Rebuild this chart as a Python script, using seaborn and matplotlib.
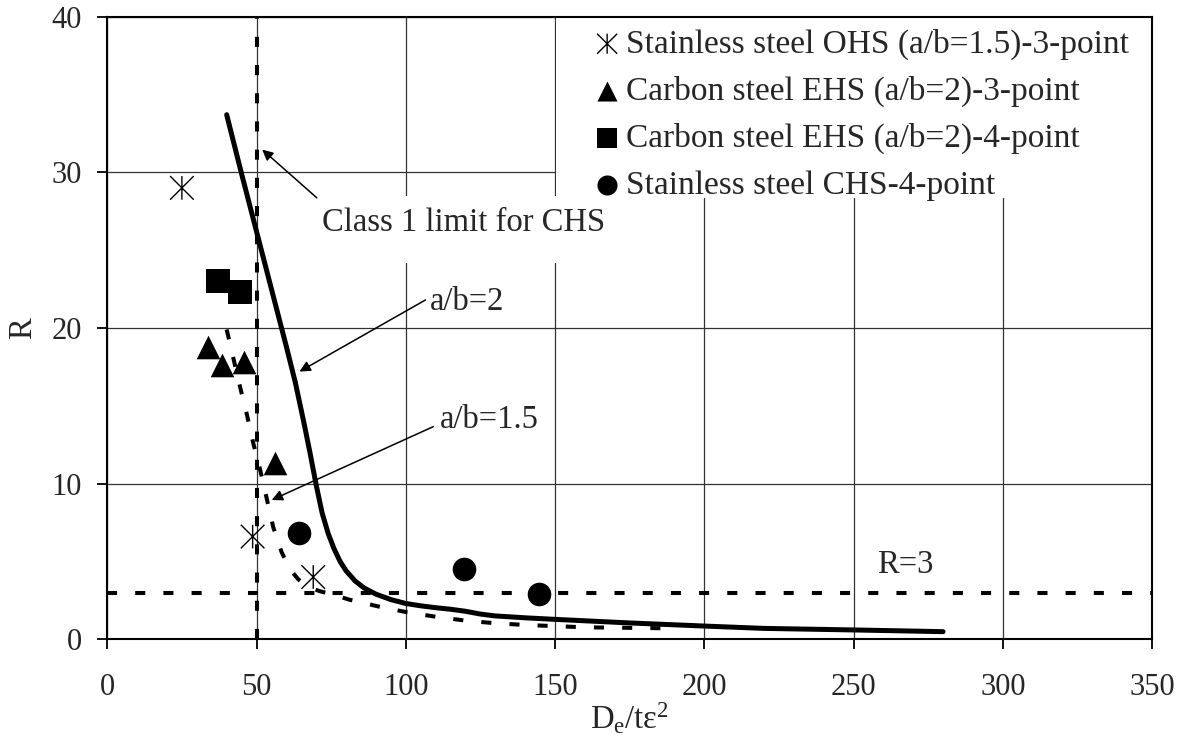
import matplotlib
matplotlib.use("Agg")
import matplotlib.pyplot as plt
from matplotlib.path import Path
from matplotlib.patches import Rectangle
import seaborn as sns

# ---- data -------------------------------------------------------------
# design curve for a/b = 2 (solid)
ab2_x = [40, 45, 50, 55, 60, 63, 66, 68, 70, 72, 74, 76, 78, 80, 83, 86, 90,
         95, 100, 105, 110, 115, 120, 125, 130, 140, 150, 175, 200, 220, 250,
         280]
ab2_y = [33.7, 29.9, 26.2, 22.5, 18.8, 16.5, 13.8, 11.9, 9.9, 8.1, 6.8, 5.8,
         5.0, 4.4, 3.75, 3.3, 2.9, 2.55, 2.3, 2.15, 2.03, 1.93, 1.8, 1.62,
         1.5, 1.38, 1.28, 1.05, 0.85, 0.7, 0.6, 0.49]

# design curve for a/b = 1.5 (dashed)
ab15_x = [40, 44.5, 46.7, 48.9, 51.2, 53.4, 55.6, 58.4, 61.2, 64, 67, 71,
          76, 81, 91, 100, 110, 120, 130, 140, 160, 190]
ab15_y = [19.9, 16.2, 14.5, 12.6, 10.9, 9.06, 7.2, 5.6, 4.5, 3.85, 3.4,
          3.1, 2.85, 2.55, 2.1, 1.75, 1.45, 1.2, 1.03, 0.92, 0.77, 0.7]

# test results
ohs_x = [25, 48.7, 69]
ohs_y = [29.0, 6.6, 4.0]
ehs3_x = [33.8, 38.3, 45.9, 56.2]
ehs3_y = [18.8, 17.6, 17.8, 11.3]
ehs4_x = [37.2, 44.5]
ehs4_y = [23.0, 22.3]
chs_x = [64.3, 119.6, 144.7]
chs_y = [6.85, 4.5, 2.9]

series_labels = ["Stainless steel OHS (a/b=1.5)-3-point",
                 "Carbon steel EHS (a/b=2)-3-point",
                 "Carbon steel EHS (a/b=2)-4-point",
                 "Stainless steel CHS-4-point"]

class1_limit = 50
r_limit = 3
x_ticks = [0, 50, 100, 150, 200, 250, 300, 350]
y_ticks = [0, 10, 20, 30, 40]

# ---- style ------------------------------------------------------------
sns.set_theme(style="white")
plt.rcParams["font.family"] = ["Liberation Serif", "DejaVu Serif"]
plt.rcParams["mathtext.fontset"] = "custom"
plt.rcParams["mathtext.rm"] = "Liberation Serif"
plt.rcParams["mathtext.it"] = "Liberation Serif:italic"

FS = 23.5
dash = (0, (2.5, 4.5))

fig = plt.figure(figsize=(11.88, 7.40), dpi=100)
ax = fig.add_axes([0.0903, 0.1361, 0.8794, 0.8414])

ax.set_xlim(0, 350)
ax.set_ylim(0, 40)
ax.set_xticks(x_ticks)
ax.set_yticks(y_ticks)
ax.set_axisbelow(True)
ax.grid(True, color="#333333", lw=0.9)
for s in ax.spines.values():
    s.set_color("black")
    s.set_linewidth(1.5)
ax.tick_params(axis="both", direction="out", length=7.2, width=1.3,
               color="black", labelsize=22, bottom=True, left=True)
ax.tick_params(axis="x", pad=17)
ax.tick_params(axis="y", pad=11)

# white panels behind the legend and the class-limit label
leg_x0 = 150.3 / 350
leg_y0 = 0.7088
ax.add_patch(Rectangle((leg_x0, leg_y0), 1 - leg_x0, 1 - leg_y0,
                       transform=ax.transAxes, facecolor="white",
                       edgecolor="none", zorder=1))
ax.add_patch(Rectangle((71, 24.2), 80, 4.3, facecolor="white",
                       edgecolor="none", zorder=1))

# reference limits
ax.axhline(r_limit, color="black", lw=2.9, linestyle=dash, zorder=2)
ax.axvline(class1_limit, color="black", lw=2.9, linestyle=dash, zorder=2)

# design curves
sns.lineplot(x=ab2_x, y=ab2_y, ax=ax, color="black", lw=3.6, sort=False,
             estimator=None, solid_capstyle="round",
             solid_joinstyle="round", zorder=3)
sns.lineplot(x=ab15_x, y=ab15_y, ax=ax, color="black", lw=2.9, sort=False,
             estimator=None, linestyle=dash, zorder=3)

# test points
star = Path([(0, -1), (0, 1), (-1, -1), (1, 1), (-1, 1), (1, -1)],
            [Path.MOVETO, Path.LINETO] * 3)
sns.scatterplot(x=ohs_x, y=ohs_y, ax=ax, marker=star, s=17 ** 2,
                facecolor="none", edgecolor="black", linewidth=1.0,
                label=series_labels[0], zorder=4)
sns.scatterplot(x=ehs3_x, y=ehs3_y, ax=ax, marker="^", s=17 ** 2,
                color="black", edgecolor="black", linewidth=0,
                label=series_labels[1], zorder=4)
sns.scatterplot(x=ehs4_x, y=ehs4_y, ax=ax, marker="s", s=17 ** 2,
                color="black", edgecolor="black", linewidth=0,
                label=series_labels[2], zorder=4)
sns.scatterplot(x=chs_x, y=chs_y, ax=ax, marker="o", s=17 ** 2,
                color="black", edgecolor="black", linewidth=0,
                label=series_labels[3], zorder=4)

handles, labels = ax.get_legend_handles_labels()
leg = ax.legend(handles, labels, loc="upper left",
                bbox_to_anchor=(0.4665, 0.981), borderaxespad=0,
                borderpad=0, frameon=False, fontsize=24, handlelength=0.75,
                handletextpad=0.2, labelspacing=0.48, markerscale=0.85)
leg.set_zorder(5)

# annotations
arrow = dict(arrowstyle="-|>", color="black", lw=1.1, mutation_scale=16,
             shrinkA=0, shrinkB=0)
ax.text(119.2, 26.2, "Class 1 limit for CHS", ha="center", va="baseline",
        fontsize=FS, zorder=3)
ax.annotate("", xy=(51.9, 31.46), xytext=(70.2, 28.36), arrowprops=arrow,
            zorder=4)

ax.text(120.5, 21.16, "a/b=2", ha="center", va="baseline", fontsize=FS)
ax.annotate("", xy=(64.4, 17.2), xytext=(106.6, 21.8), arrowprops=arrow,
            zorder=4)

ax.text(128.1, 13.55, "a/b=1.5", ha="center", va="baseline", fontsize=FS)
ax.annotate("", xy=(55.1, 8.95), xytext=(109.2, 13.66), arrowprops=arrow,
            zorder=4)

ax.text(267.2, 4.26, "R=3", ha="center", va="baseline", fontsize=FS)

ax.set_xlabel(r"$\mathrm{D_e/t\varepsilon^2}$", fontsize=FS, labelpad=-1)
ax.set_ylabel("R", fontsize=FS, labelpad=10)

fig.savefig("out.png", dpi=100)
